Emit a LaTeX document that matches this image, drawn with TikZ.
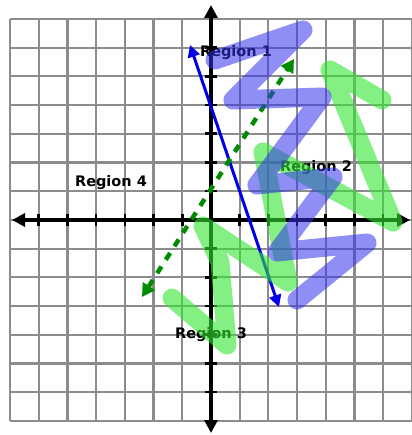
\documentclass[tikz,border=0pt]{standalone}
\usepackage{fontspec}
\setmainfont{DejaVu Sans}
\usetikzlibrary{arrows.meta}
\definecolor{gridgray}{RGB}{140,140,140}
\definecolor{arrblue}{RGB}{0,0,230}
\definecolor{arrgreen}{RGB}{0,140,0}
\definecolor{hlblue}{RGB}{50,50,235}
\definecolor{hlgreen}{RGB}{50,230,50}
\tikzset{
  gridline/.style={draw=gridgray, line width=2.2pt},
  axisline/.style={draw=black, line width=3.2pt, {Triangle[length=13pt,width=13pt]}-{Triangle[length=13pt,width=13pt]}},
  tickmark/.style={draw=black, line width=2.6pt},
  lbl/.style={font=\fontsize{14.5}{17}\selectfont\bfseries, text=black, inner sep=0pt},
  bluearrow/.style={draw=arrblue, line width=3pt, {Triangle[length=12pt,width=12pt]}-{Triangle[length=12pt,width=12pt]}},
  greenarrow/.style={draw=arrgreen, line width=4.5pt, dash pattern=on 8pt off 8pt, {Triangle[length=13pt,width=14pt]}-{Triangle[length=13pt,width=14pt]}},
  blueshade/.style={draw=hlblue, line width=19pt, line cap=round, line join=round, draw opacity=0.55},
  greenshade/.style={draw=hlgreen, line width=19pt, line cap=round, line join=round, draw opacity=0.6}
}
\begin{document}
\begin{tikzpicture}[x=1pt,y=-1pt]
\useasboundingbox (0,0) rectangle (411,435);
\fill[white] (0,0) rectangle (411,435);
% grid
\foreach \i in {0,...,14} {
  \draw[gridline] ({10+\i*28.7},19) -- ({10+\i*28.7},421);
  \draw[gridline] (10,{19+\i*28.7}) -- (412,{19+\i*28.7});
}
% axes
\coordinate (xl) at (12,220);
\coordinate (xr) at (410,220);
\coordinate (yt) at (211,5);
\coordinate (yb) at (211,433);
\draw[axisline] (xl) -- (xr);
\draw[axisline] (yt) -- (yb);
\foreach \i in {1,...,6,8,9,...,13} {
  \draw[tickmark] ({10+\i*28.7},214) -- ({10+\i*28.7},226);
  \draw[tickmark] (205,{19+\i*28.7}) -- (217,{19+\i*28.7});
}
% labels
\node[lbl] (r1) at (236,53) {Region 1};
\node[lbl] (r2) at (316,168) {Region 2};
\node[lbl] (r3) at (211,335) {Region 3};
\node[lbl] (r4) at (111,183) {Region 4};
% arrows
\coordinate (b1) at (190,45);
\coordinate (b2) at (279,307);
\draw[bluearrow] (b1) -- (b2);
\coordinate (g1) at (142,297);
\coordinate (g2) at (294,59);
\draw[greenarrow] (g1) -- (g2);
% shading scribbles
\draw[greenshade] (382,100) -- (330,70) -- (393,222) -- (263,152) -- (288,282) -- (203,226) -- (220,262) -- (227,345) -- (172,298);
\draw[blueshade] (215,60) -- (303,30) -- (233,100) -- (322,97) -- (257,185) -- (333,177) -- (277,252) -- (367,243) -- (297,300);
\end{tikzpicture}
\end{document}
